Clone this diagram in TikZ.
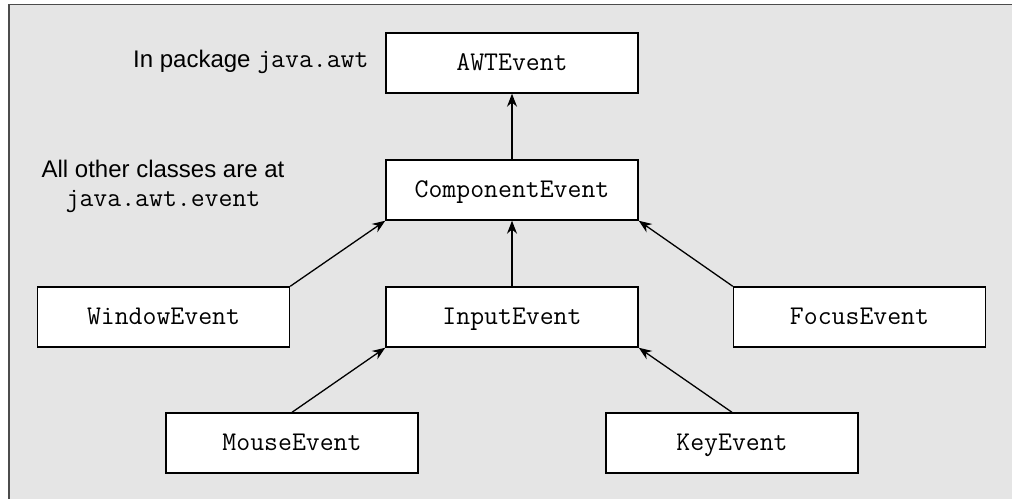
\documentclass[tikz,border=0pt]{standalone}
\usepackage{fontspec}
\setmainfont{Liberation Sans}
\usetikzlibrary{arrows.meta}
\newcommand{\codefont}{\fontsize{27}{29}\selectfont\ttfamily}
\begin{document}
\begin{tikzpicture}[x=1pt,y=-1pt,
  cls/.style={draw=black, fill=white, line width=1.4pt, minimum width=252pt, minimum height=60pt, inner sep=0pt,
    text height=15pt, text depth=0pt, font=\codefont},
  lbl/.style={font=\fontsize{24}{29}\selectfont, inner sep=0pt},
  inh/.style={line width=1.3pt, -{Stealth[length=13pt,width=10pt]}}]
\useasboundingbox (0,0) rectangle (1012,498);
\clip (0,0) rectangle (1012,498);
\fill[gray!20!white, draw=black!70, line width=1.5pt] (9,4.5) rectangle (1030,520);
\node[cls] (awt) at (512,63) {AWTEvent};
\node[cls] (comp) at (512,190) {ComponentEvent};
\node[cls] (win) at (163.5,317) {WindowEvent};
\node[cls] (inp) at (512,317) {InputEvent};
\node[cls] (foc) at (859.5,317) {FocusEvent};
\node[cls] (mouse) at (292,443) {MouseEvent};
\node[cls] (key) at (732,443) {KeyEvent};
\node[lbl, anchor=west] (pkg) at (133,62) {In package {\codefont java.awt}};
\node[lbl, align=center] (other) at (163,186) {All other classes are at\\{\codefont java.awt.event}};
\draw[inh] (comp.north) -- (awt.south);
\draw[inh] (win.north east) -- (comp.south west);
\draw[inh] (inp.north) -- (comp.south);
\draw[inh] (foc.north west) -- (comp.south east);
\draw[inh] (mouse.north) -- (inp.south west);
\draw[inh] (key.north) -- (inp.south east);
\end{tikzpicture}
\end{document}
